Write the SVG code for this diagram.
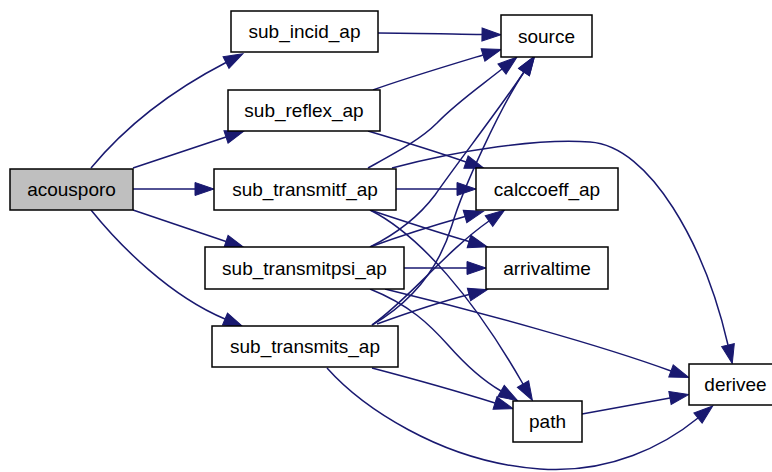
<svg xmlns="http://www.w3.org/2000/svg" width="772" height="472" viewBox="0 0 772 472">
  <style>
    .node rect { fill: #ffffff; stroke: #000000; stroke-width: 1.5; }
    .node.root rect { fill: #bfbfbf; }
    .node text { font-family: "Liberation Sans", Arial, Helvetica, sans-serif; font-size: 19px; fill: #000000; text-anchor: middle; }
    .edges path { fill: none; stroke: #191970; stroke-width: 1.5; marker-end: url(#arrow); }
  </style>
  <defs>
    <marker id="arrow" markerUnits="userSpaceOnUse" markerWidth="20" markerHeight="14" refX="0" refY="7" orient="auto" viewBox="0 0 20 14" overflow="visible">
      <path d="M0,0.5 L19,7 L0,13.5 z" fill="#191970" stroke="#191970" stroke-width="1"/>
    </marker>
  </defs>
  <rect width="772" height="472" fill="#ffffff"/>

  <!-- call edges -->
  <g id="edges" class="edges">
    <!-- acousporo -->
    <path d="M91,168 C120,133 165,94 226,62.5"/>
    <path d="M133,168 L226,137"/>
    <path d="M133,189 L195,189"/>
    <path d="M133,210 L226,241.5"/>
    <path d="M91,210 C120,246 170,296 225,319"/>
    <!-- sub_incid_ap -->
    <path d="M378,33 C410,33 450,34 482,34.5"/>
    <!-- sub_reflex_ap -->
    <path d="M373,90 C400,80 450,65 483,55"/>
    <path d="M368,131 C395,139 440,153 466,162"/>
    <!-- sub_transmitf_ap -->
    <path d="M368,168 C395,153 420,140 437,123 C455,104 478,88 502,69"/>
    <path d="M396,189 L457,189"/>
    <path d="M392,168 C460,150 540,138 590,142 C650,146 705,245 728,345"/>
    <path d="M370,210 C400,220 440,233 469,241.5"/>
    <path d="M370,210 C420,235 475,300 523,384"/>
    <!-- sub_transmitpsi_ap -->
    <path d="M370,247 C400,232 420,215 435,195 C458,162 500,108 524,72"/>
    <path d="M370,247 C400,236 435,225 465,216.5"/>
    <path d="M404,268 L467,268"/>
    <path d="M370,289 C410,305 430,325 448,345 C463,362 482,380 501,391"/>
    <path d="M385,289 C480,312 600,345 671,371"/>
    <!-- sub_transmits_ap -->
    <path d="M372,325 C415,300 440,265 452,225 C463,188 500,108 524,72"/>
    <path d="M372,325 C410,298 445,252 489,221"/>
    <path d="M377,324 C410,312 440,302 469,294.5"/>
    <path d="M372,368 C410,378 460,392 495,403"/>
    <path d="M327,368 C360,405 440,462 540,469 C610,474 665,445 698,418"/>
    <!-- path -->
    <path d="M582,414 L670,398"/>
  </g>

  <g id="acousporo" class="node root">
    <rect x="10" y="169" width="123" height="41"/>
    <text x="71.5" y="196">acousporo</text>
  </g>
  <g id="sub_incid_ap" class="node">
    <rect x="231" y="11" width="147" height="41"/>
    <text x="304.5" y="38">sub_incid_ap</text>
  </g>
  <g id="sub_reflex_ap" class="node">
    <rect x="228" y="90" width="152" height="41"/>
    <text x="304" y="117">sub_reflex_ap</text>
  </g>
  <g id="sub_transmitf_ap" class="node">
    <rect x="214" y="169" width="182" height="41"/>
    <text x="305" y="196">sub_transmitf_ap</text>
  </g>
  <g id="sub_transmitpsi_ap" class="node">
    <rect x="205" y="247" width="199" height="42"/>
    <text x="304.5" y="274.5">sub_transmitpsi_ap</text>
  </g>
  <g id="sub_transmits_ap" class="node">
    <rect x="212" y="326" width="186" height="41"/>
    <text x="305" y="353">sub_transmits_ap</text>
  </g>
  <g id="source" class="node">
    <rect x="501" y="15" width="91" height="42"/>
    <text x="546.5" y="42.5">source</text>
  </g>
  <g id="calccoeff_ap" class="node">
    <rect x="476" y="168" width="142" height="42"/>
    <text x="547" y="195.5">calccoeff_ap</text>
  </g>
  <g id="arrivaltime" class="node">
    <rect x="486" y="247" width="122" height="42"/>
    <text x="547" y="274.5">arrivaltime</text>
  </g>
  <g id="derivee" class="node">
    <rect x="689" y="364" width="92" height="41"/>
    <text x="735.5" y="391">derivee</text>
  </g>
  <g id="path" class="node">
    <rect x="513" y="401" width="69" height="41"/>
    <text x="547.5" y="428">path</text>
  </g>
</svg>
